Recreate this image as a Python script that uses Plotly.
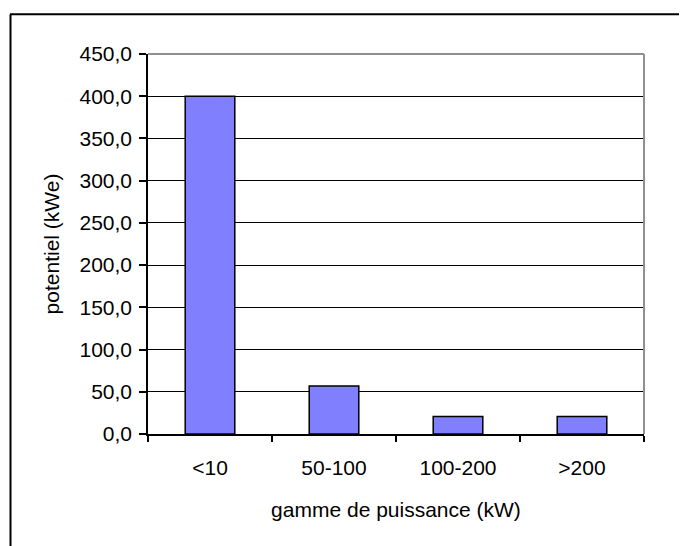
import plotly.graph_objects as go

categories = ["<10", "50-100", "100-200", ">200"]
values = [400.0, 56.7, 20.6, 20.6]
y_ticks = [0, 50, 100, 150, 200, 250, 300, 350, 400, 450]

# page body has an 8px default margin: work in reference pixels minus 8
OFF = 8
W, H = 687 - OFF, 546 - OFF
L, T = 148 - OFF, 54.3 - OFF
R = W - (644 - OFF)
B = H - (434.3 - OFF)
pw, ph = W - L - R, H - T - B

def px_x(px):
    return (px - OFF - L) / pw

def px_y(py):
    return (H - B - (py - OFF)) / ph

font = dict(family="Liberation Sans, Arial, sans-serif", size=21, color="black")

fig = go.Figure(go.Bar(
    x=categories, y=values,
    marker=dict(color="#8080FF", line=dict(color="black", width=1.5)),
    width=0.4,
))

fig.update_layout(
    width=W, height=H,
    margin=dict(l=L, r=R, t=T, b=B),
    paper_bgcolor="white", plot_bgcolor="white",
    separators=", ",
    font=font,
    showlegend=False,
    bargap=0.6,
    shapes=[
        # plot area top and right (gray)
        dict(type="line", xref="paper", yref="paper", x0=0, x1=1, y0=1, y1=1,
             line=dict(color="#909090", width=2)),
        dict(type="line", xref="paper", yref="paper", x0=1, x1=1, y0=0, y1=1,
             line=dict(color="#909090", width=2)),
        # outer frame (top and left visible)
        dict(type="line", xref="paper", yref="paper", x0=px_x(10), x1=px_x(700),
             y0=px_y(14.5), y1=px_y(14.5), line=dict(color="black", width=2)),
        dict(type="line", xref="paper", yref="paper", x0=px_x(10.5), x1=px_x(10.5),
             y0=px_y(14.5), y1=px_y(560), line=dict(color="black", width=2)),
    ],
)

fig.update_xaxes(
    type="category",
    showline=True, linecolor="black", linewidth=1.5,
    ticks="outside", tickson="boundaries", ticklen=6, tickcolor="black", tickwidth=1.5,
    showgrid=False, zeroline=False,
    tickfont=font,
    ticklabelstandoff=14,
    title=dict(text="gamme de puissance (kW)", font=font, standoff=24),
)

fig.update_yaxes(
    range=[0, 450],
    tickvals=y_ticks, tickformat=".1f",
    showline=True, linecolor="black", linewidth=1.5,
    ticks="outside", ticklen=7, tickcolor="black", tickwidth=1.5,
    showgrid=True, gridcolor="black", gridwidth=1,
    zeroline=False,
    tickfont=font,
    ticklabelstandoff=3,
    title=dict(text="potentiel (kWe)", font=font, standoff=14),
)

fig.write_html("out.html")
